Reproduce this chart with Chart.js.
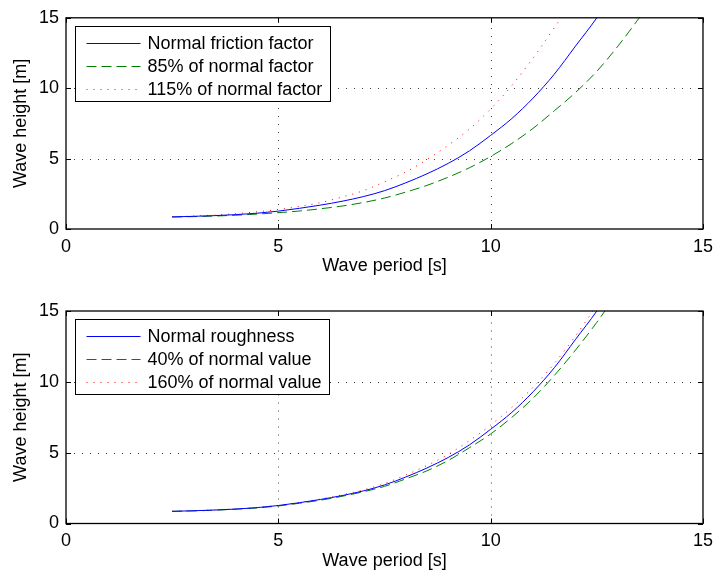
<!DOCTYPE html>
<html>
<head>
<meta charset="utf-8">
<script src="https://cdn.jsdelivr.net/npm/chart.js@4/dist/chart.umd.min.js"></script>
<style>
  html, body { margin: 0; padding: 0; background: #fff; }
  .panel { position: absolute; left: 0; width: 720px; height: 287px; }
</style>
</head>
<body>
<div class="panel" style="top:0"><canvas id="friction"></canvas></div>
<div class="panel" style="top:287px"><canvas id="roughness"></canvas></div>
<script>
// Wave period grid [s]
const periods = [2.5, 3, 3.5, 4, 4.5, 5, 5.5, 6, 6.5, 7, 7.5, 8, 8.5, 9, 9.5, 10,
                 10.5, 11, 11.5, 12, 12.5, 13, 13.5, 14];

// Wave height [m] for different friction factors
const frictionNormal = [0.86, 0.90, 0.95, 1.02, 1.12, 1.27, 1.47, 1.70, 1.97, 2.30, 2.72, 3.28,
                        3.92, 4.66, 5.55, 6.65, 7.85, 9.3, 11.0, 13.0, 15.0, 17.3];
const friction85 = [0.85, 0.88, 0.92, 0.98, 1.06, 1.16, 1.28, 1.44, 1.63, 1.88, 2.2, 2.62,
                    3.1, 3.68, 4.35, 5.15, 6.08, 7.15, 8.4, 9.7, 11.2, 13.0, 15.0, 17.1];
const friction115 = [0.87, 0.92, 0.99, 1.09, 1.22, 1.39, 1.60, 1.88, 2.27, 2.72, 3.35, 4.05,
                     4.93, 5.95, 7.10, 8.52, 10.2, 12.15, 14.3, 16.5];

// Wave height [m] for different bottom roughness values
const roughnessNormal = [0.86, 0.90, 0.95, 1.02, 1.12, 1.27, 1.47, 1.70, 1.97, 2.30, 2.72, 3.28,
                         3.92, 4.66, 5.55, 6.65, 7.85, 9.3, 11.0, 13.0, 15.0, 17.3];
const roughness40 = [0.86, 0.89, 0.94, 1.01, 1.10, 1.24, 1.43, 1.65, 1.92, 2.24, 2.62, 3.15,
                     3.72, 4.45, 5.35, 6.32, 7.5, 8.85, 10.45, 12.25, 14.2, 16.35];
const roughness160 = [0.86, 0.90, 0.96, 1.03, 1.13, 1.28, 1.49, 1.73, 2.02, 2.37, 2.82, 3.42,
                      4.10, 4.88, 5.85, 6.95, 8.2, 9.62, 11.3, 13.25, 15.4];

const axisTicks = [0, 5, 10, 15];
const gridTicks = [5, 10];

const FONT = '"Liberation Sans", Arial, Helvetica, sans-serif';

function points(values) {
  return values.map((h, i) => ({ x: periods[i], y: h }));
}

// Matlab-like axes: dotted grid, boxed frame with inward ticks, framed legend
const matlabAxes = {
  id: 'matlabAxes',
  beforeDatasetsDraw(chart) {
    const { ctx, chartArea: a, scales: { x, y } } = chart;
    ctx.save();
    ctx.strokeStyle = 'rgba(0,0,0,0.75)';
    ctx.lineWidth = 1;
    ctx.setLineDash([1, 7]);
    gridTicks.forEach(v => {
      const px = Math.round(x.getPixelForValue(v)) + 0.5;
      ctx.beginPath(); ctx.moveTo(px, a.bottom); ctx.lineTo(px, a.top); ctx.stroke();
      const py = Math.round(y.getPixelForValue(v)) + 0.5;
      ctx.beginPath(); ctx.moveTo(a.left, py); ctx.lineTo(a.right, py); ctx.stroke();
    });
    ctx.restore();
  },
  afterDatasetsDraw(chart, args, opts) {
    const { ctx, chartArea: a, scales: { x, y } } = chart;
    ctx.save();
    ctx.strokeStyle = '#000';
    ctx.lineWidth = 1.3;
    ctx.setLineDash([]);
    ctx.strokeRect(a.left, a.top, a.right - a.left, a.bottom - a.top);
    const tl = 5;
    ctx.lineWidth = 1;
    axisTicks.forEach(v => {
      const px = Math.round(x.getPixelForValue(v)) + 0.5;
      ctx.beginPath();
      ctx.moveTo(px, a.bottom); ctx.lineTo(px, a.bottom - tl);
      ctx.moveTo(px, a.top); ctx.lineTo(px, a.top + tl);
      ctx.stroke();
      const py = Math.round(y.getPixelForValue(v)) + 0.5;
      ctx.beginPath();
      ctx.moveTo(a.left, py); ctx.lineTo(a.left + tl, py);
      ctx.moveTo(a.right, py); ctx.lineTo(a.right - tl, py);
      ctx.stroke();
    });

    // legend
    ctx.font = '18px ' + FONT;
    const sets = chart.data.datasets;
    const textX = 72;
    const maxW = Math.max(...sets.map(d => ctx.measureText(d.label).width));
    const bx = Math.round(a.left + 9) + 0.5;
    const by = Math.round(a.top + 8) + 0.5;
    const bw = Math.round(textX + maxW + 8);
    const rowH = 23;
    const bh = 16 + rowH * (sets.length - 1) + 13;
    ctx.fillStyle = '#fff';
    ctx.fillRect(bx, by, bw, bh);
    ctx.strokeStyle = '#000';
    ctx.lineWidth = 1;
    ctx.strokeRect(bx, by, bw, bh);
    sets.forEach((d, i) => {
      const ry = Math.round(by + 16 + i * rowH) + 0.5;
      ctx.save();
      ctx.strokeStyle = d.borderColor;
      ctx.lineWidth = d.borderWidth;
      ctx.setLineDash(d.borderDash || []);
      ctx.beginPath(); ctx.moveTo(bx + 11, ry); ctx.lineTo(bx + 65, ry); ctx.stroke();
      ctx.restore();
      ctx.fillStyle = '#000';
      ctx.textBaseline = 'middle';
      ctx.textAlign = 'left';
      ctx.fillText(d.label, bx + textX, ry + 1);
    });
    ctx.restore();
  }
};

function makeChart(id, series, labels, padTop, xHeight, xTitlePad) {
  const styles = [
    { borderColor: '#0000ff', borderDash: [] },
    { borderColor: '#008000', borderDash: [10, 5] },
    { borderColor: '#ff0000', borderDash: [1, 6] }
  ];
  return new Chart(document.getElementById(id), {
    type: 'line',
    data: {
      datasets: series.map((s, i) => ({
        label: labels[i],
        data: points(s),
        borderColor: styles[i].borderColor,
        borderDash: styles[i].borderDash,
        borderWidth: 1,
        pointRadius: 0,
        fill: false,
        cubicInterpolationMode: 'monotone'
      }))
    },
    options: {
      responsive: true,
      maintainAspectRatio: false,
      animation: false,
      events: [],
      layout: { padding: { top: padTop, right: 11, bottom: 0, left: 0 } },
      plugins: { legend: { display: false }, tooltip: { enabled: false } },
      scales: {
        x: {
          type: 'linear', min: 0, max: 15,
          grid: { display: false, drawTicks: false },
          border: { display: false },
          ticks: { stepSize: 5, padding: 7, color: '#000', font: { family: FONT, size: 18 } },
          title: { display: true, text: 'Wave period [s]', color: '#000',
                   font: { family: FONT, size: 18 }, padding: { top: 0, bottom: xTitlePad } },
          afterFit: s => { s.height = xHeight; }
        },
        y: {
          type: 'linear', min: 0, max: 15,
          grid: { display: false, drawTicks: false },
          border: { display: false },
          ticks: { stepSize: 5, padding: 7, color: '#000', font: { family: FONT, size: 18 } },
          title: { display: true, text: 'Wave height [m]', color: '#000',
                   font: { family: FONT, size: 18 }, padding: { top: 10, bottom: 0 } },
          afterFit: s => { s.width = 66; }
        }
      }
    },
    plugins: [matlabAxes]
  });
}

makeChart('friction', [frictionNormal, friction85, friction115],
  ['Normal friction factor', '85% of normal factor', '115% of normal factor'], 16, 58, 10);
makeChart('roughness', [roughnessNormal, roughness40, roughness160],
  ['Normal roughness', '40% of normal value', '160% of normal value'], 24, 50.5, 2);
</script>
</body>
</html>
